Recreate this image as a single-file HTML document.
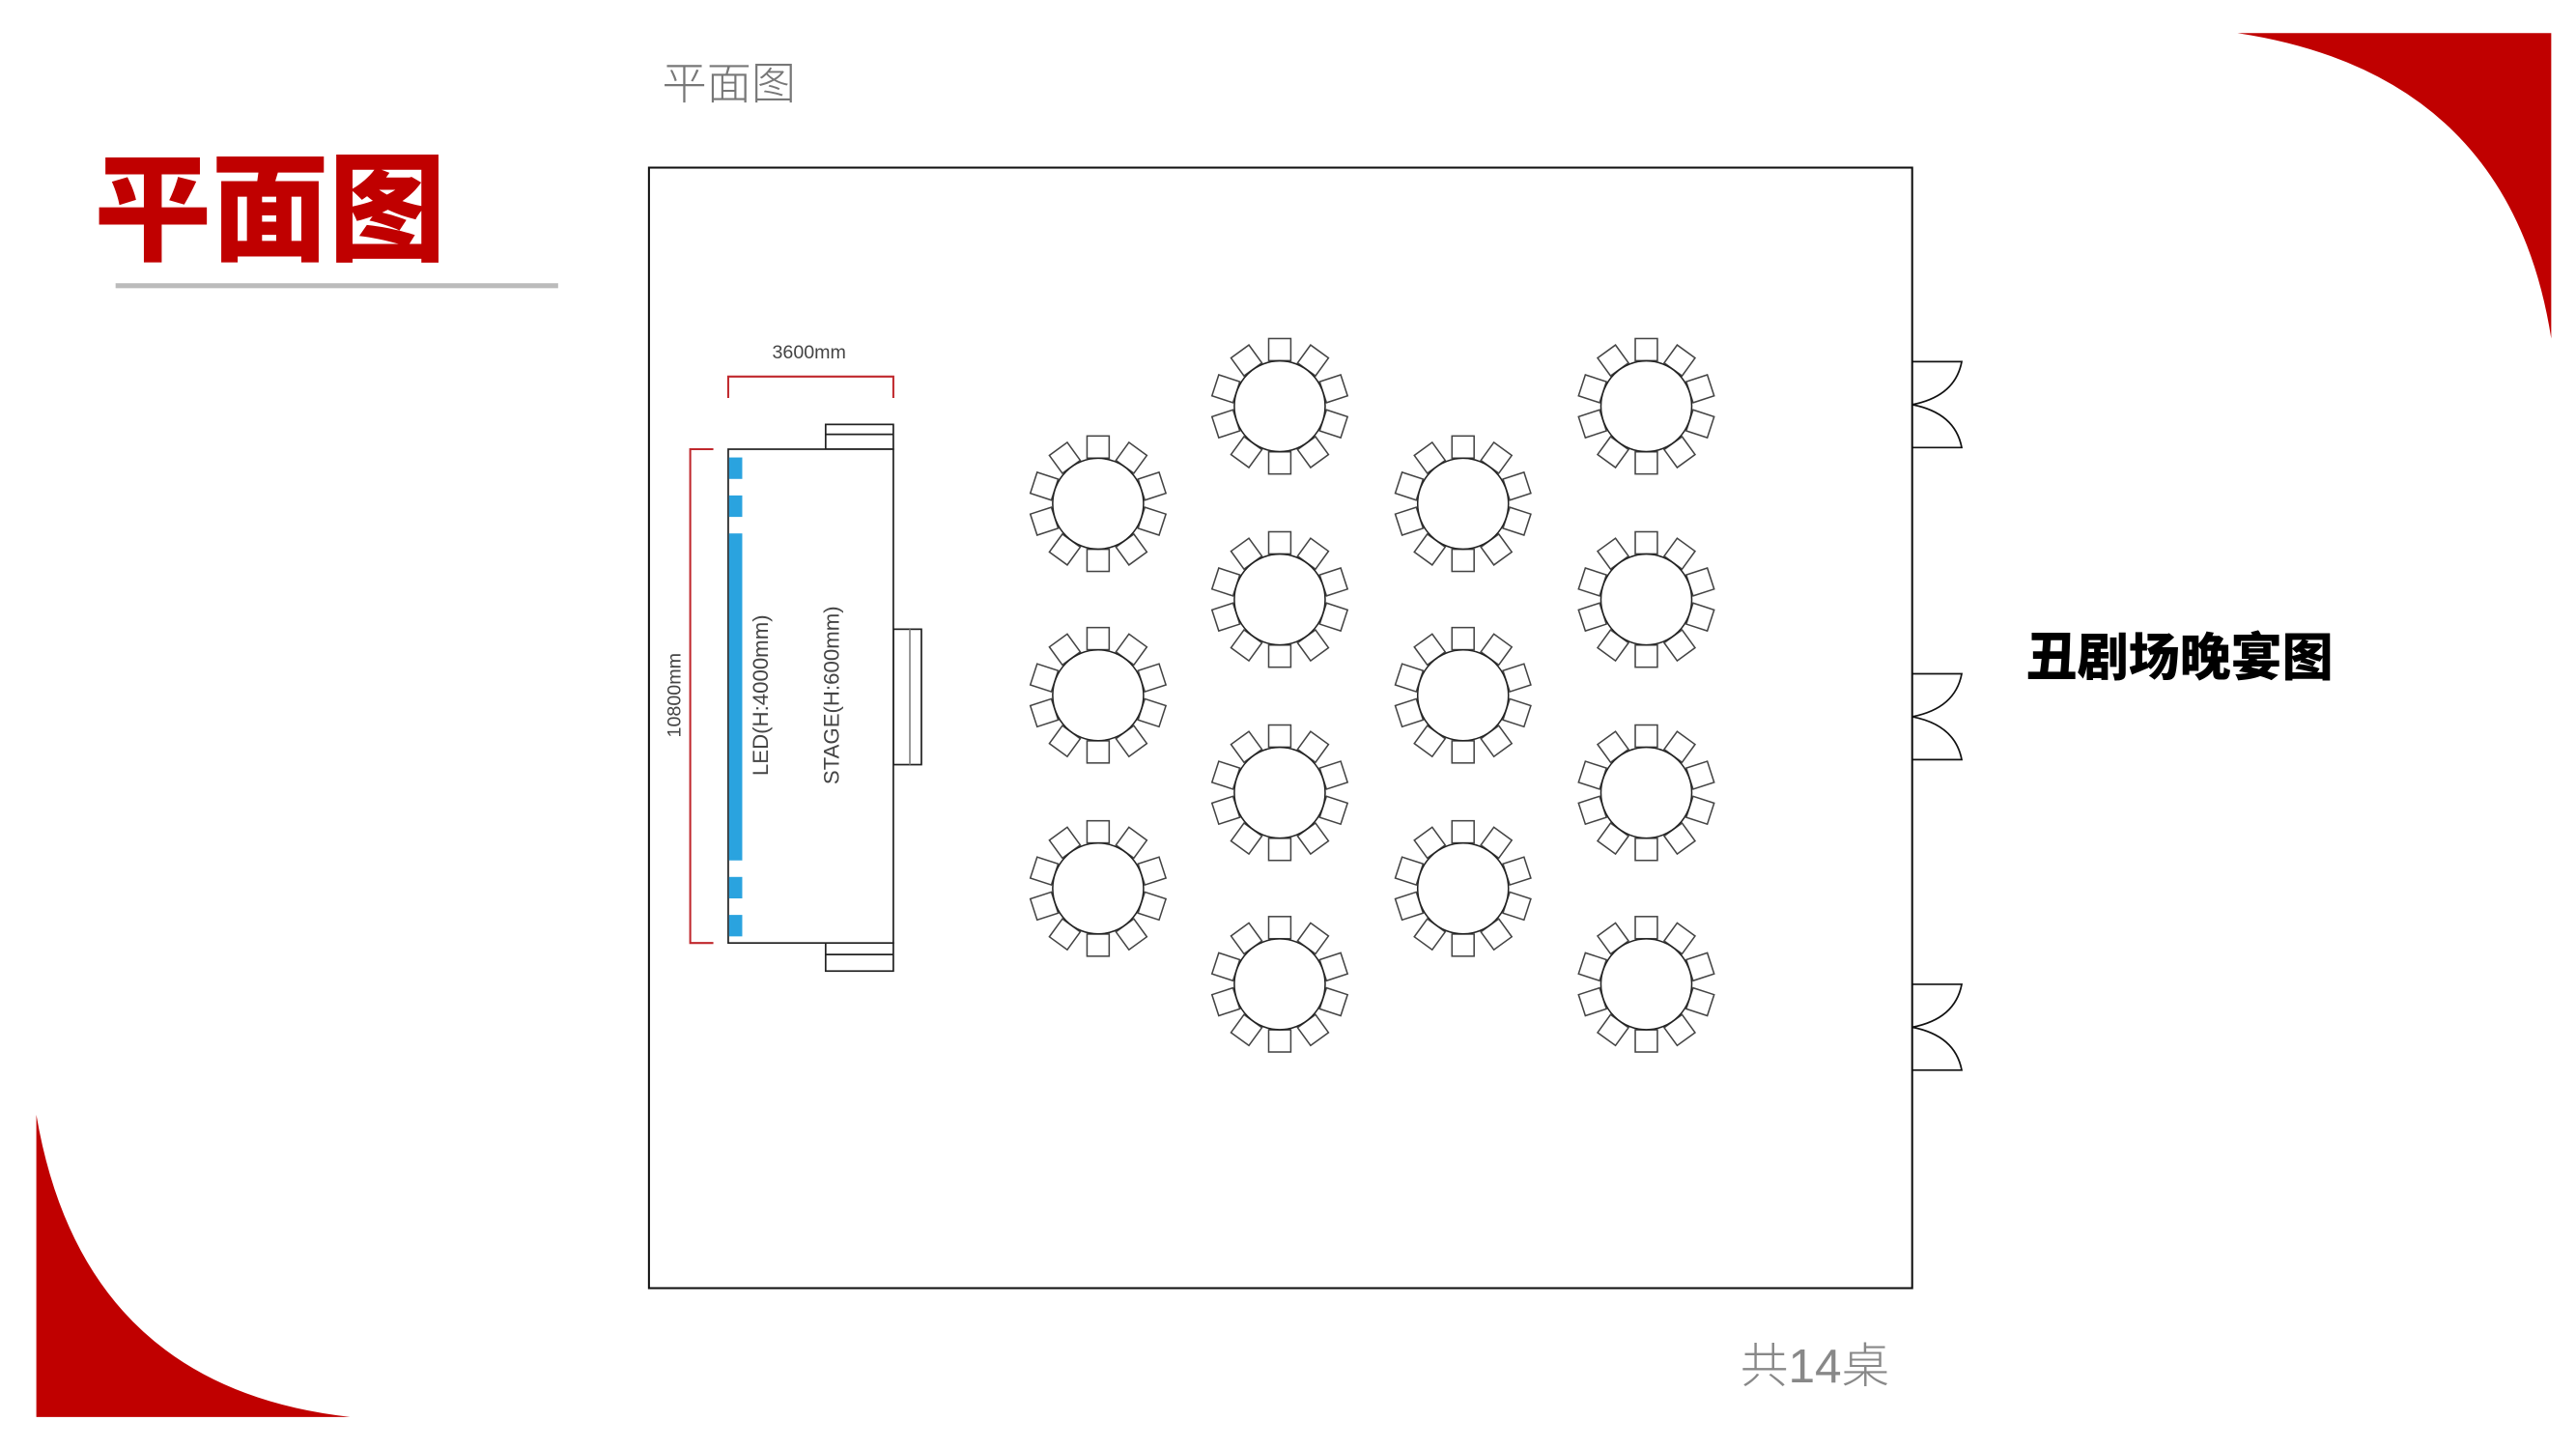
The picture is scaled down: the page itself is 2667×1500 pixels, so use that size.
<!DOCTYPE html>
<html><head><meta charset="utf-8"><style>
html,body{margin:0;padding:0;background:#fff;}
svg{display:block;}
</style></head><body>
<svg width="2667" height="1500" viewBox="0 0 1560 877.4" preserveAspectRatio="none" xmlns="http://www.w3.org/2000/svg">
<defs>
<g id="t" fill="#fff" stroke="#444" stroke-width="0.9">
<g id="ch"><rect x="-6.7" y="-41" width="13.4" height="13.4"/></g>
<use href="#ch" transform="rotate(36)"/><use href="#ch" transform="rotate(72)"/><use href="#ch" transform="rotate(108)"/><use href="#ch" transform="rotate(144)"/><use href="#ch" transform="rotate(180)"/><use href="#ch" transform="rotate(216)"/><use href="#ch" transform="rotate(252)"/><use href="#ch" transform="rotate(288)"/><use href="#ch" transform="rotate(324)"/>
<circle r="27.5" stroke="#222"/>
</g>
</defs>
<rect width="1560" height="877.4" fill="#fff"/>
<path d="M1355,20 L1545,20 L1545,205 Q1520,45 1355,20 Z" fill="#c00000"/>
<path d="M22,675 L22,858 L212,858 Q50,840 22,675 Z" fill="#c00000"/>
<text x="57" y="152" font-family="'Liberation Sans','Noto Sans CJK SC',sans-serif" font-weight="900" font-size="71" fill="#c00000">平面图</text>
<rect x="70" y="171.5" width="268" height="3" fill="#bbb"/>
<text x="401" y="60" font-family="'Liberation Sans','Noto Sans CJK SC',sans-serif" font-size="27" fill="#777" font-weight="300">平面图</text>
<text x="1054" y="837" font-family="'Liberation Sans','Noto Sans CJK SC',sans-serif" font-size="29" fill="#888" font-weight="300">共14桌</text>
<text x="1227" y="409" font-family="'Liberation Sans','Noto Sans CJK SC',sans-serif" font-weight="900" font-size="31" fill="#000">丑剧场晚宴图</text>
<rect x="393" y="101.5" width="765" height="678.5" fill="none" stroke="#111" stroke-width="1.2"/>
<g fill="none" stroke="#111" stroke-width="1">
<path d="M1158,219 H1188 Q1184,240 1158,245 Q1184,250 1188,271 H1158"/>
<path d="M1158,408 H1188 Q1184,429 1158,434 Q1184,439 1188,460 H1158"/>
<path d="M1158,596 H1188 Q1184,617 1158,622 Q1184,627 1188,648 H1158"/>
</g>
<g fill="#fff" stroke="#222" stroke-width="1">
<rect x="500" y="257" width="41" height="15"/><line x1="500" y1="263" x2="541" y2="263"/>
<rect x="500" y="571" width="41" height="17"/><line x1="500" y1="578" x2="541" y2="578"/>
<rect x="541" y="381" width="17" height="82"/><line x1="551" y1="381" x2="551" y2="463" stroke="#888"/>
<rect x="441" y="272" width="100" height="299"/>
</g>
<g fill="#2aa3df">
<rect x="441.5" y="277" width="8" height="13"/><rect x="441.5" y="300" width="8" height="13"/><rect x="441.5" y="323" width="8" height="198"/><rect x="441.5" y="531" width="8" height="13"/><rect x="441.5" y="554" width="8" height="13"/>
</g>
<g fill="none" stroke="#c0282d" stroke-width="1.2">
<path d="M441,241 V228 H541 V241"/>
<path d="M432,272 H418 V571 H432"/>
</g>
<g font-family="'Liberation Sans',sans-serif" fill="#444">
<text x="490" y="217" font-size="11.5" text-anchor="middle">3600mm</text>
<text transform="translate(412,421) rotate(-90)" font-size="11.5" text-anchor="middle">10800mm</text>
<text transform="translate(465,421) rotate(-90)" font-size="13" text-anchor="middle">LED(H:4000mm)</text>
<text transform="translate(508,421) rotate(-90)" font-size="13" text-anchor="middle">STAGE(H:600mm)</text>
</g>
<use href="#t" x="665" y="305"/><use href="#t" x="665" y="421"/><use href="#t" x="665" y="538"/>
<use href="#t" x="775" y="246"/><use href="#t" x="775" y="363"/><use href="#t" x="775" y="480"/><use href="#t" x="775" y="596"/>
<use href="#t" x="886" y="305"/><use href="#t" x="886" y="421"/><use href="#t" x="886" y="538"/>
<use href="#t" x="997" y="246"/><use href="#t" x="997" y="363"/><use href="#t" x="997" y="480"/><use href="#t" x="997" y="596"/>
</svg>
</body></html>
